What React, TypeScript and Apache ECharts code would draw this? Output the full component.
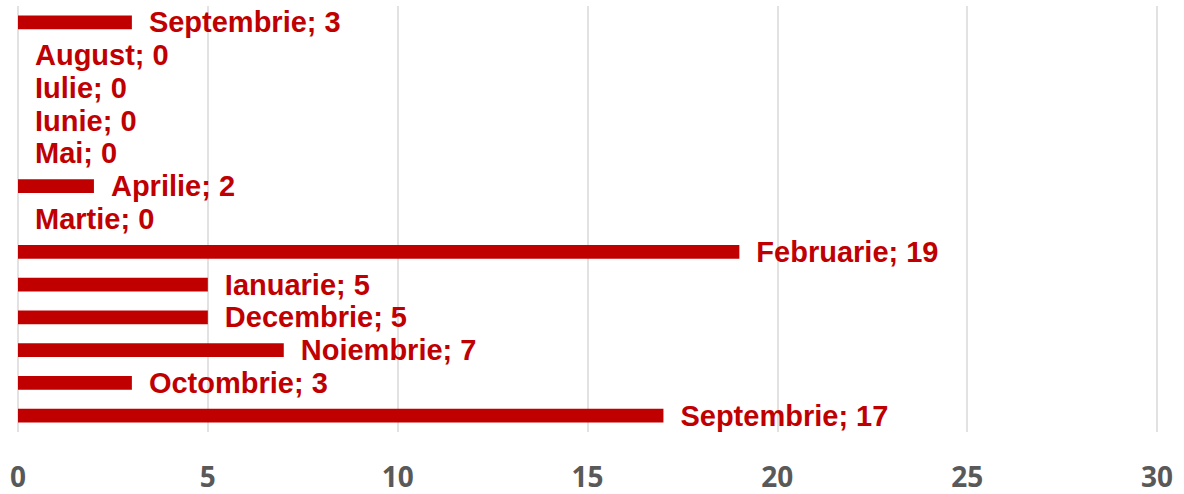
import React, { useEffect, useRef } from "react";
import * as echarts from "echarts";

const categories = [
  "Septembrie", "Octombrie", "Noiembrie", "Decembrie", "Ianuarie", "Februarie",
  "Martie", "Aprilie", "Mai", "Iunie", "Iulie", "August", "Septembrie",
];
const values = [17, 3, 7, 5, 5, 19, 0, 2, 0, 0, 0, 0, 3];
const xTicks = [0, 5, 10, 15, 20, 25, 30];

export default function App() {
  const ref = useRef<HTMLDivElement>(null);
  useEffect(() => {
    if (!ref.current) return;
    const chart = echarts.init(ref.current, undefined, { renderer: "svg" });
    chart.setOption({
      animation: false,
      backgroundColor: "#ffffff",
      grid: { left: 18, right: 27, top: 6, bottom: 62, containLabel: false },
      xAxis: {
        type: "value",
        min: xTicks[0],
        max: xTicks[xTicks.length - 1],
        interval: 5,
        axisLine: { show: false },
        axisTick: { show: false },
        splitLine: { show: true, lineStyle: { color: "#d9d9d9", width: 1.5 } },
        axisLabel: {
          color: "#595959",
          fontSize: 28,
          fontWeight: "bold",
          fontFamily: "Open Sans",
          margin: 30,
        },
      },
      yAxis: {
        type: "category",
        data: categories.map((c, i) => c + "_" + i),
        axisLine: { show: false },
        axisTick: { show: false },
        axisLabel: { show: false },
        splitLine: { show: false },
      },
      series: [
        {
          type: "bar",
          data: values,
          barWidth: "42%",
          itemStyle: { color: "#c00000" },
          label: {
            show: true,
            position: "right",
            distance: 17,
            color: "#c00000",
            fontSize: 29,
            lineHeight: 30,
            fontWeight: "bold",
            fontFamily: "Liberation Sans",
            formatter: (p: any) => categories[p.dataIndex] + "; " + p.value,
          },
        },
      ],
    });
    return () => chart.dispose();
  }, []);
  return <div ref={ref} style={{ width: 1184, height: 494, position: "absolute", left: 0, top: 0 }} />;
}
